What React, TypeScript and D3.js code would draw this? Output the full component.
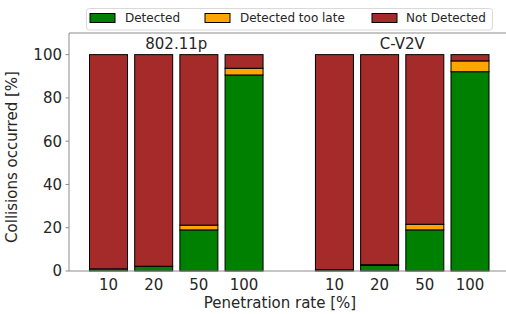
import React from "react";
import * as d3 from "d3";

const groups = ["802.11p", "C-V2V"];
const rates = ["10", "20", "50", "100"];
const detected802 = [1, 2.2, 19, 90.6];
const late802 = [0, 0, 2.2, 3.1];
const detectedCV2V = [0.6, 2.6, 19, 92.1];
const lateCV2V = [0, 0.3, 2.6, 5];
const seriesNames = ["Detected", "Detected too late", "Not Detected"];
const seriesColors = ["#008000", "#FFA500", "#A52A2A"];
const yTicks = [0, 20, 40, 60, 80, 100];

type Row = { pos: number; label: string; Detected: number; "Detected too late": number; "Not Detected": number };

const rows: Row[] = [];
rates.forEach((r, i) => {
  rows.push({ pos: i, label: r, Detected: detected802[i], "Detected too late": late802[i], "Not Detected": 100 - detected802[i] - late802[i] });
});
rates.forEach((r, i) => {
  rows.push({ pos: i + 5, label: r, Detected: detectedCV2V[i], "Detected too late": lateCV2V[i], "Not Detected": 100 - detectedCV2V[i] - lateCV2V[i] });
});

export default function App() {
  const W = 506, H = 314;
  const left = 69, right = 520, top = 33, bottom = 271;
  const x = d3.scaleLinear().domain([0, 8]).range([108.5, 470]);
  const y = d3.scaleLinear().domain([0, 110]).range([bottom, top]);
  const barW = 38;
  const stack = d3.stack<Row>().keys(seriesNames);
  const layers = stack(rows);
  const font = "DejaVu Sans, sans-serif";
  const textColor = "#262626";
  const spine = "#8c8c8c";
  const legendItems = [
    { x: 90, tx: 125 },
    { x: 205, tx: 240 },
    { x: 372, tx: 406 },
  ];
  return (
    <svg width={W} height={H} style={{ position: "absolute", left: 0, top: 0 }} fontFamily={font}>
      <rect width={W} height={H} fill="#fff" />
      {layers.map((layer, li) => (
        <g key={li}>
          {layer.map((d, i) => (
            <rect
              key={i}
              x={x(d.data.pos) - barW / 2}
              y={y(d[1])}
              width={barW}
              height={Math.max(0, y(d[0]) - y(d[1]))}
              fill={seriesColors[li]}
              stroke="#000"
              strokeWidth={1}
            />
          ))}
        </g>
      ))}
      <line x1={left} x2={left} y1={top} y2={bottom} stroke={spine} strokeWidth={1} />
      <line x1={left} x2={right} y1={bottom} y2={bottom} stroke={spine} strokeWidth={1} />
      <line x1={left} x2={right} y1={top} y2={top} stroke={spine} strokeWidth={1} />
      {yTicks.map((t) => (
        <g key={t}>
          <line x1={left - 3.5} x2={left} y1={y(t)} y2={y(t)} stroke={spine} />
          <text x={62} y={y(t)} dy="0.36em" textAnchor="end" fontSize={15} fill={textColor}>{t}</text>
        </g>
      ))}
      {rows.map((r, i) => (
        <text key={i} x={x(r.pos)} y={290} textAnchor="middle" fontSize={15} fill={textColor}>{r.label}</text>
      ))}
      {groups.map((g, i) => (
        <text key={g} x={(x(i * 5) + x(i * 5 + 3)) / 2} y={49} textAnchor="middle" fontSize={15} fill={textColor}>{g}</text>
      ))}
      <text x={280} y={308} textAnchor="middle" fontSize={15} fill={textColor}>Penetration rate [%]</text>
      <text transform="translate(17,157) rotate(-90)" textAnchor="middle" fontSize={15} fill={textColor}>Collisions occurred [%]</text>
      <rect x={86.5} y={8.5} width={406} height={21.5} rx={3} fill="#fff" stroke="#d9d9d9" strokeWidth={1} />
      {seriesNames.map((s, i) => (
        <g key={s}>
          <rect x={legendItems[i].x} y={13.5} width={25} height={9} fill={seriesColors[i]} stroke="#000" strokeWidth={1} />
          <text x={legendItems[i].tx} y={18} dy="0.36em" fontSize={12} fill={textColor}>{s}</text>
        </g>
      ))}
    </svg>
  );
}
